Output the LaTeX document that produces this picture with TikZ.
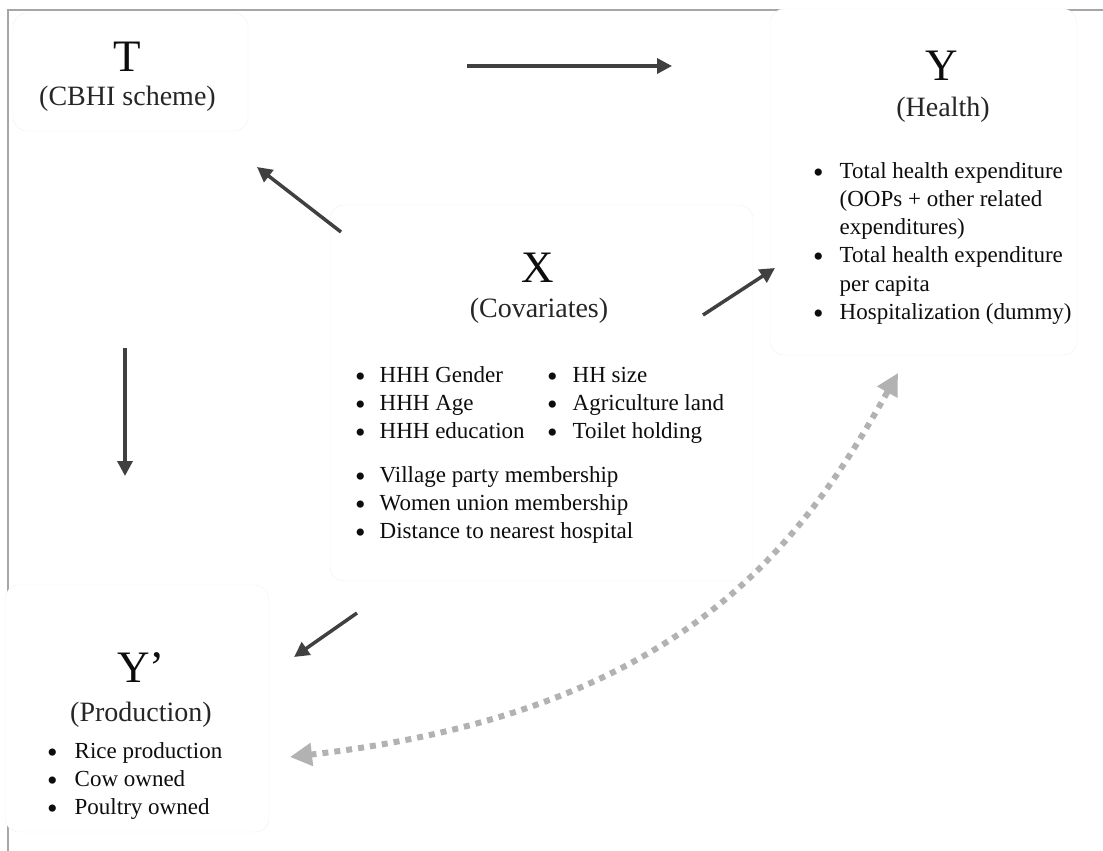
\documentclass[tikz,border=0pt]{standalone}
\usepackage{fontspec}
\setmainfont{Liberation Serif}
\usetikzlibrary{arrows.meta}
\newcommand\bul{\raisebox{-4pt}{\fontsize{30}{28}\selectfont\textbullet}}

\begin{document}
\begin{tikzpicture}[x=1pt,y=-1pt]
\tikzset{box/.style={draw=gray!12,fill=white,rounded corners=14pt,inner sep=0pt}}
\tikzset{title/.style={anchor=base,inner sep=0pt,font=\fontsize{45}{50}\selectfont,text=black!95}}
\tikzset{subtitle/.style={anchor=base,inner sep=0pt,font=\fontsize{28}{32}\selectfont,text=black!85}}
\tikzset{items/.style={anchor=base west,inner sep=0pt,font=\fontsize{23}{28.3}\selectfont,text=black!95}}
\tikzset{effect/.style={draw=black!75,line width=3.5pt,-{Triangle[length=15pt,width=15pt]}}}
\tikzset{link/.style={draw=gray!60,line width=6pt,dash pattern=on 6pt off 6pt,
  {Triangle[length=22pt,width=22pt]}-{Triangle[length=22pt,width=22pt]}}}

\useasboundingbox (0,0) rectangle (1103,851);

% frame
\draw[gray!70,line width=2pt] (1103,10) -- (8,10) -- (8,851);

% boxes
\node[box,minimum width=235pt,minimum height=118pt] (T) at (130.5,72) {};
\node[box,minimum width=307pt,minimum height=346pt] (Y) at (923.5,182) {};
\node[box,minimum width=423pt,minimum height=376pt] (X) at (541.5,393) {};
\node[box,minimum width=264pt,minimum height=247pt] (Yp) at (137,708.5) {};

% titles
\node[title] (Tname) at (127.5,72) {T};
\node[subtitle] (Tsub) at (127.5,105) {(CBHI scheme)};
\node[title] (Yname) at (942,81) {Y};
\node[subtitle] (Ysub) at (943,116) {(Health)};
\node[title] (Xname) at (538,282) {X};
\node[subtitle] (Xsub) at (539,317) {(Covariates)};
\node[title] (Ypname) at (141,682) {Y’};
\node[subtitle] (Ypsub) at (141,721) {(Production)};

% lists
\node[items] (Ylist) at (813,178) {\begin{tabular}[t]{@{}l@{\hspace{16pt}}l@{}}
\bul & Total health expenditure\\
 & (OOPs + other related\\
 & expenditures)\\
\bul & Total health expenditure\\
 & per capita\\
\bul & Hospitalization (dummy)
\end{tabular}};
\node[items] (Xlistl) at (355,382) {\begin{tabular}[t]{@{}l@{\hspace{14pt}}l@{}}
\bul & HHH Gender\\
\bul & HHH Age\\
\bul & HHH education
\end{tabular}};
\node[items] (Xlistr) at (547,382) {\begin{tabular}[t]{@{}l@{\hspace{15pt}}l@{}}
\bul & HH size\\
\bul & Agriculture land\\
\bul & Toilet holding
\end{tabular}};
\node[items] (Xlistb) at (355,482) {\begin{tabular}[t]{@{}l@{\hspace{14pt}}l@{}}
\bul & Village party membership\\
\bul & Women union membership\\
\bul & Distance to nearest hospital
\end{tabular}};
\node[items] (Yplist) at (47,758) {\begin{tabular}[t]{@{}l@{\hspace{17pt}}l@{}}
\bul & Rice production\\
\bul & Cow owned\\
\bul & Poultry owned
\end{tabular}};

% arrow ends
\coordinate (t2y-a) at (467,66);
\coordinate (t2y-b) at (672,66);
\coordinate (x2t-a) at (341,232);
\coordinate (x2t-b) at (257,167);
\coordinate (t2yp-a) at (125,348);
\coordinate (t2yp-b) at (125,476);
\coordinate (x2y-a) at (703,315);
\coordinate (x2y-b) at (775,268);
\coordinate (x2yp-a) at (357,613);
\coordinate (x2yp-b) at (294,657);
\coordinate (yp-end) at (290,757);
\coordinate (y-end) at (898,373);

% arrows
\draw[effect] (t2y-a) -- (t2y-b);
\draw[effect] (x2t-a) -- (x2t-b);
\draw[effect] (t2yp-a) -- (t2yp-b);
\draw[effect] (x2y-a) -- (x2y-b);
\draw[effect] (x2yp-a) -- (x2yp-b);
\draw[link] (yp-end) .. controls (680,712) and (800,548) .. (y-end);

\end{tikzpicture}
\end{document}
